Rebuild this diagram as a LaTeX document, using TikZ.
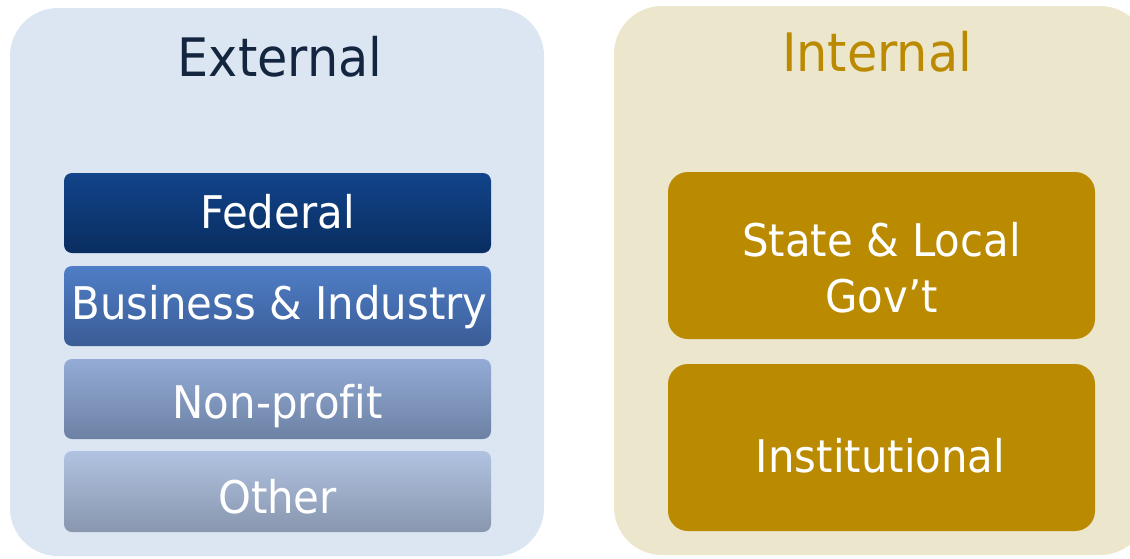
\documentclass[tikz,border=0pt]{standalone}
\usepackage{fontspec}
\setmainfont{DejaVu Sans}[Ligatures=NoCommon]
\newfontfamily\boxfont{DejaVu Sans}[FakeStretch=0.93, Ligatures=NoCommon]
\newfontfamily\ttlfont{DejaVu Sans}[FakeStretch=0.93]
\definecolor{extbg}{HTML}{DCE6F2}
\definecolor{intbg}{HTML}{EBE6CC}
\definecolor{extttl}{HTML}{13253F}
\definecolor{intttl}{HTML}{BB8A00}
\definecolor{gold}{HTML}{BA8A00}
\definecolor{fedT}{HTML}{12448A}\definecolor{fedB}{HTML}{092D60}
\definecolor{busT}{HTML}{4F7EC6}\definecolor{busB}{HTML}{3A5C96}
\definecolor{nonT}{HTML}{93ABD6}\definecolor{nonB}{HTML}{6C81A3}
\definecolor{othT}{HTML}{B1C3E1}\definecolor{othB}{HTML}{8896AE}
\tikzset{
  panel/.style={rounded corners=48pt, draw=none},
  ttl/.style={font=\ttlfont\fontsize{53}{60}\selectfont, inner sep=0pt, anchor=base},
  extbox/.style={rounded corners=8pt, minimum width=427pt, inner sep=0pt},
  intbox/.style={rounded corners=20pt, fill=gold, minimum width=427pt, inner sep=0pt},
  boxtext/.style={text=white, font=\boxfont\fontsize{45}{56}\selectfont, inner sep=0pt, anchor=base, align=center},
}
\begin{document}
\begin{tikzpicture}[x=1pt,y=-1pt]
\useasboundingbox (0,0) rectangle (1130,558);
% panels
\fill[extbg, panel] (10,8) rectangle (544,556);
\fill[intbg, panel] (614,6) rectangle (1148,555);
% titles
\node[ttl, text=extttl] (ext) at (280,76) {External};
\node[ttl, text=intttl] (int) at (877,71) {Internal};
% external boxes
\node[extbox, top color=fedT, bottom color=fedB, minimum height=80pt] (fed) at (277.5,213) {};
\node[extbox, top color=busT, bottom color=busB, minimum height=80pt] (bus) at (277.5,306) {};
\node[extbox, top color=nonT, bottom color=nonB, minimum height=80pt] (non) at (277.5,399) {};
\node[extbox, top color=othT, bottom color=othB, minimum height=81pt] (oth) at (277.5,491.5) {};
\node[boxtext] (fedtxt) at (277.5,228) {Federal};
\node[boxtext] (bustxt) at (279.5,319) {Business \& Industry};
\node[boxtext] (nontxt) at (277.5,418) {Non-profit};
\node[boxtext] (othtxt) at (277.5,513) {Other};
% internal boxes
\node[intbox, minimum height=167pt] (state) at (881.5,255.5) {};
\node[intbox, minimum height=167pt] (inst) at (881.5,447.5) {};
\node[boxtext] (statetxt) at (881.5,312) {State \& Local\\Gov’t};
\node[boxtext] (insttxt) at (880.5,472) {Institutional};
\end{tikzpicture}
\end{document}
